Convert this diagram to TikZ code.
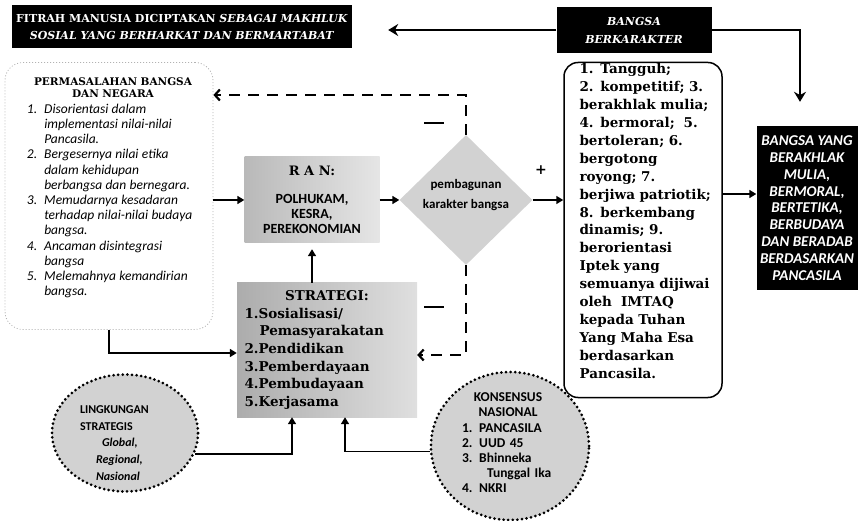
\documentclass[tikz,border=0pt]{standalone}
\usepackage{fontspec}
\setmainfont{DejaVu Serif}
\newfontfamily\sansf{Carlito}
\usetikzlibrary{arrows.meta, shapes.geometric}

\tikzset{
    blackbox/.style={fill=black, text=white, inner sep=0pt, align=center},
    softbox/.style={draw=gray!60, line width=0.8pt, dash pattern=on 1pt off 2pt, rounded corners=18pt, inner sep=0pt},
    roundbox/.style={draw, line width=1.5pt, rounded corners=14pt, inner sep=0pt},
    ranbox/.style={left color=gray!55, right color=gray!20, inner sep=0pt, align=center},
    stratbox/.style={left color=gray!65, right color=gray!25, inner sep=0pt},
    diamondbox/.style={diamond, fill=gray!35, inner sep=0pt},
    dotcircle/.style={ellipse, draw, fill=gray!35, line width=3pt, dash pattern=on 0pt off 4.6pt, line cap=round, inner sep=0pt},
    arr/.style={-{Triangle[length=7pt, width=8pt]}, line width=1.6pt},
    bigarr/.style={-{Stealth[length=10pt, width=12pt]}, line width=1.6pt},
    dasharr/.style={-{Straight Barb[length=5pt, width=11pt]}, line width=2.2pt, dash pattern=on 11pt off 8pt},
}

\begin{document}
\begin{tikzpicture}[x=1pt, y=-1pt]
    \useasboundingbox (0,0) rectangle (859,521);

    % Black header boxes
    \node[blackbox, minimum width=340pt, minimum height=43pt,
          font=\bfseries\fontsize{11}{17}\selectfont] (fitrah) at (182,27)
        {FITRAH MANUSIA DICIPTAKAN \textit{SEBAGAI MAKHLUK}\\
         \textit{SOSIAL YANG BERHARKAT DAN BERMARTABAT}};
    \node[blackbox, minimum width=155pt, minimum height=46pt,
          font=\bfseries\itshape\fontsize{11}{18}\selectfont] (bangsa) at (634,30)
        {BANGSA\\BERKARAKTER};
    \node[blackbox, minimum width=101pt, minimum height=164pt,
          font=\sansf\bfseries\itshape\fontsize{15}{16.8}\selectfont] (hasil) at (807,208)
        {BANGSA YANG\\BERAKHLAK\\MULIA,\\BERMORAL,\\BERTETIKA,\\BERBUDAYA\\DAN BERADAB\\BERDASARKAN\\PANCASILA};

    % Problem box on the left
    \node[softbox, minimum width=208pt, minimum height=267pt] (masalah) at (109,196) {};
    \node[text width=172pt, inner sep=0pt] (masalahteks) at (113,189)
        {{\centering\bfseries\fontsize{10.5}{12}\selectfont PERMASALAHAN BANGSA\\DAN NEGARA\par}
         \vspace{4pt}
         {\sansf\itshape\fontsize{13.5}{15.2}\selectfont
         \begin{tabular}{@{}l@{\hspace{7pt}}l@{}}
         1. & Disorientasi dalam\\
            & implementasi nilai-nilai\\
            & Pancasila.\\
         2. & Bergesernya nilai etika\\
            & dalam kehidupan\\
            & berbangsa dan bernegara.\\
         3. & Memudarnya kesadaran\\
            & terhadap nilai-nilai budaya\\
            & bangsa.\\
         4. & Ancaman disintegrasi\\
            & bangsa\\
         5. & Melemahnya kemandirian\\
            & bangsa.
         \end{tabular}\par}};

    % RAN box
    \node[ranbox, minimum width=135pt, minimum height=86pt, text width=130pt,
          font=\sansf\bfseries\fontsize{14}{15}\selectfont] (ran) at (312,200)
        {{\rmfamily\fontsize{13}{15}\selectfont R A N:}\\[13pt]
         POLHUKAM,\\KESRA,\\PEREKONOMIAN};

    % Diamond
    \node[diamondbox, minimum width=133pt, minimum height=130pt] (bangun) at (466,200) {};
    \node[align=center, inner sep=0pt, font=\sansf\bfseries\fontsize{13}{20}\selectfont]
        (bangunteks) at (466,195) {pembagunan\\karakter bangsa};

    % Character list
    \node[roundbox, minimum width=158pt, minimum height=335pt] (ciri) at (643,230) {};
    \node[text width=145pt, align=left, inner sep=0pt,
          font=\bfseries\fontsize{13.5}{17.9}\selectfont] (ciriteks) at (652,221)
        {1. Tangguh;\\2. kompetitif; 3.\\berakhlak mulia;\\4. bermoral;\ \ 5.\\bertoleran; 6.\\bergotong\\royong; 7.\\berjiwa patriotik;\\8. berkembang\\dinamis; 9.\\berorientasi\\Iptek yang\\semuanya dijiwai\\oleh\ \ IMTAQ\\kepada Tuhan\\Yang Maha Esa\\berdasarkan\\Pancasila.};

    % Strategy box
    \node[stratbox, minimum width=180pt, minimum height=134pt, text width=165pt,
          font=\bfseries\fontsize{13.5}{17.7}\selectfont] (strategi) at (327,350)
        {{\centering STRATEGI:\par}
         1.Sosialisasi/\\\hspace*{15pt}Pemasyarakatan\\2.Pendidikan\\3.Pemberdayaan\\4.Pembudayaan\\5.Kerjasama};

    % Circles
    \node[dotcircle, minimum width=146pt, minimum height=117pt] (ling) at (125,433) {};
    \node[text width=80pt, align=left, inner sep=0pt,
          font=\sansf\bfseries\fontsize{12}{16.7}\selectfont] (lingteks) at (120,443)
        {LINGKUNGAN\\STRATEGIS\\\hspace*{22pt}\textit{Global,}\\\hspace*{16pt}\textit{Regional,}\\\hspace*{16pt}\textit{Nasional}};
    \node[dotcircle, minimum width=158pt, minimum height=148pt] (kons) at (510,446) {};
    \node[text width=92pt, align=left, inner sep=0pt,
          font=\sansf\bfseries\fontsize{13.5}{15.2}\selectfont] (konsteks) at (508,443)
        {{\centering KONSENSUS\\NASIONAL\par}1. PANCASILA\\2. UUD 45\\3. Bhinneka\\\hspace*{25pt}Tunggal Ika\\4. NKRI};

    % Connectors
    \draw[bigarr, shorten >=36pt] (bangsa.west) -- (bangsa.west -| fitrah.east);
    \draw[bigarr, shorten >=24pt] (bangsa.east) -| ([xshift=-7pt]hasil.north);
    \draw[arr] (ciri.east |- 0,194) -- (hasil.west |- 0,194);
    \draw[arr] (masalah.east |- ran.west) -- (ran.west);
    \draw[arr] (ran.east) -- (bangun.west);
    \draw[arr] (bangun.east) -- (bangun.east -| ciri.west);
    \draw[arr] (masalah.south) |- (strategi.west |- 0,353);
    \draw[arr, shorten >=6pt] (strategi.north -| ran.south) -- (ran.south);
    \draw[arr] (ling.-17) -| ([xshift=-35pt]strategi.south);
    \draw[arr] (kons.184) -| ([xshift=18pt]strategi.south);
    \draw[dasharr] (bangun.north) |- (masalah.east |- 0,95);
    \draw[dasharr] (bangun.south) |- (strategi.east |- 0,355);

    % Signs
    \node[font=\bfseries\fontsize{14}{14}\selectfont] (plus) at (541,170) {+};
    \node (minusatas) at (434,123) {\rule{20pt}{2pt}};
    \node (minusbawah) at (434,307) {\rule{20pt}{2pt}};
\end{tikzpicture}
\end{document}
